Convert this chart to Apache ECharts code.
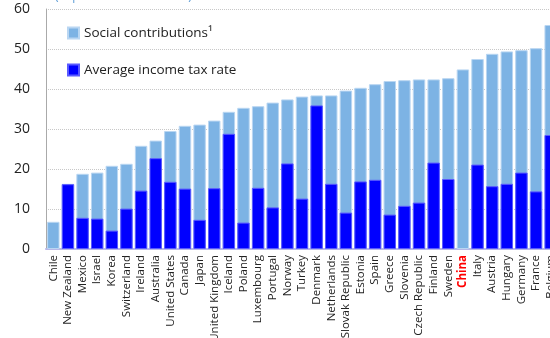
<!DOCTYPE html>
<html>
<head>
<meta charset="utf-8">
<script src="https://cdn.jsdelivr.net/npm/echarts@6/dist/echarts.min.js"></script>
<style>html,body{margin:0;padding:0;background:#fff;}#c{width:550px;height:338px;}</style>
</head>
<body>
<div id="c"></div>
<script>
const categories = ["Chile","New Zealand","Mexico","Israel","Korea","Switzerland","Ireland","Australia","United States","Canada","Japan","United Kingdom","Iceland","Poland","Luxembourg","Portugal","Norway","Turkey","Denmark","Netherlands","Slovak Republic","Estonia","Spain","Greece","Slovenia","Czech Republic","Finland","Sweden","China","Italy","Austria","Hungary","Germany","France","Belgium"];
// total tax wedge (income tax + social contributions)
const totalWedge = [6.8,16.3,18.8,19.1,20.8,21.3,25.8,27.1,29.5,30.8,31.1,32.1,34.3,35.3,35.7,36.6,37.4,38.1,38.4,38.4,39.6,40.3,41.2,42.0,42.2,42.4,42.4,42.7,44.9,47.5,48.8,49.4,49.7,50.2,56.0];
const incomeTax = [0,16.2,7.8,7.6,4.6,10.1,14.6,22.7,16.8,15.1,7.3,15.2,28.8,6.6,15.3,10.4,21.4,12.6,35.9,16.3,9.1,16.9,17.3,8.6,10.8,11.6,21.6,17.5,0,21.1,15.7,16.3,19.1,14.4,28.5];
const yTicks = [0,10,20,30,40,50,60];

const chart = echarts.init(document.getElementById('c'));
const font = '"Open Sans", "Noto Sans", sans-serif';
chart.setOption({
  animation: false,
  textStyle: {fontFamily: font},
  title: {
    text: '(In percent of labor cost)',
    left: 50, top: -14,
    textStyle: {color: '#5b9bd5', fontSize: 12, fontWeight: 'normal', fontFamily: font}
  },
  grid: {left: 46, right: -8, top: 9, bottom: 89, containLabel: false, outerBoundsMode: 'none'},
  legend: {
    orient: 'vertical',
    left: 62, top: 21,
    itemWidth: 11, itemHeight: 11, itemGap: 23,
    icon: 'rect',
    textStyle: {fontSize: 13.5, color: '#222', fontFamily: font},
    data: ['Social contributions\u00B9', 'Average income tax rate']
  },
  xAxis: {
    type: 'category',
    data: categories,
    axisLine: {lineStyle: {color: '#b8b8e8', width: 2}},
    axisTick: {show: false},
    axisLabel: {
      rotate: 90, interval: 0, fontSize: 11.5, color: '#222', margin: 6,
      formatter: v => v === 'China' ? '{c|' + v + '}' : v,
      rich: {c: {color: '#ff0000', fontWeight: 'bold', fontSize: 11.5}}
    }
  },
  yAxis: {
    type: 'value', min: 0, max: 60, interval: 10,
    axisLine: {show: true, lineStyle: {color: '#aaa'}},
    axisTick: {show: false},
    axisLabel: {fontSize: 14, color: '#222', margin: 16,
      formatter: v => yTicks.includes(v) ? String(v) : ''},
    splitLine: {lineStyle: {color: '#c8c8c8', type: 'dotted'}}
  },
  series: [
    {
      name: 'Social contributions\u00B9', type: 'bar', data: totalWedge,
      barCategoryGap: '15%', barGap: '-100%',
      itemStyle: {color: '#7db3e4', borderColor: '#b9d6f2', borderWidth: 1}
    },
    {
      name: 'Average income tax rate', type: 'bar',
      data: incomeTax.map(v => v === 0 ? null : v),
      barCategoryGap: '15%', barGap: '-100%',
      itemStyle: {color: '#0000ff', borderColor: '#5a5aff', borderWidth: 1}
    }
  ]
});
</script>
</body>
</html>
